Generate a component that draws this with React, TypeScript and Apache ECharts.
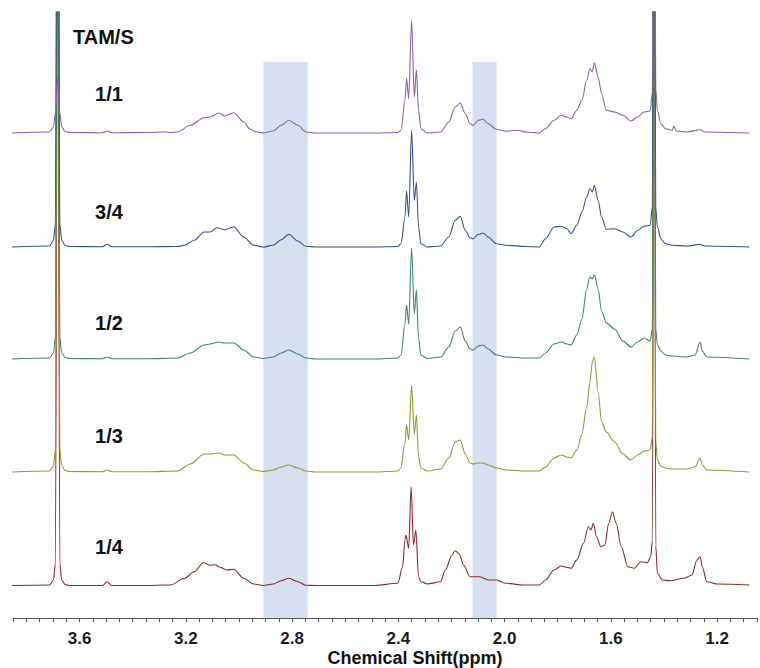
import React, { useEffect, useRef } from "react";
import * as echarts from "echarts";

// ---- data (ppm, intensity above own baseline) ----
const sampleLabels = ["1/1", "3/4", "1/2", "1/3", "1/4"];
const headerLabel = "TAM/S";
const axisTitle = "Chemical Shift(ppm)";
const tickLabels = [3.6, 3.2, 2.8, 2.4, 2.0, 1.6, 1.2];
const highlightBands = [
  [2.908, 2.741],
  [2.121, 2.03],
];

const spec_1_1 = [
  [3.854, 0], [3.713, 1], [3.698, 6], [3.691, 20], [3.682, 56], [3.674, 20], [3.667, 6], [3.654, 1.5], [3.639, 0.5],
  [3.513, 0.3], [3.496, 2], [3.479, 0.3], [3.342, 0.5], [3.279, 1], [3.257, 0.5], [3.231, 1], [3.183, 7.7],
  [3.131, 15.3], [3.108, 16], [3.075, 20], [3.053, 17], [3.019, 20.3], [2.982, 11], [2.96, 4.3], [2.934, 1],
  [2.908, 0], [2.871, 2], [2.841, 7.7], [2.812, 12.7], [2.778, 7.7], [2.748, 1], [2.711, 0], [2.489, 0],
  [2.402, 0.5], [2.39, 2.7], [2.375, 32.7], [2.369, 55], [2.361, 34], [2.35, 113], [2.34, 36], [2.332, 63],
  [2.324, 22.7], [2.315, 4.3], [2.291, 0], [2.241, 1], [2.21, 11], [2.186, 26], [2.167, 30], [2.148, 19.3],
  [2.13, 9.3], [2.118, 7.7], [2.099, 12.7], [2.081, 13.7], [2.062, 9.3], [2.031, 3.7], [1.994, 1.7],
  [1.951, 2.7], [1.92, 1], [1.87, 0], [1.846, 4.3], [1.814, 12.7], [1.787, 17.7], [1.765, 16], [1.75, 14.3],
  [1.728, 22.7], [1.709, 32.7], [1.691, 52.7], [1.679, 64.3], [1.67, 61], [1.662, 70.3], [1.648, 56],
  [1.635, 39.3], [1.617, 22.7], [1.586, 21], [1.555, 17.7], [1.524, 12], [1.499, 16], [1.475, 21],
  [1.452, 22], [1.444, 40], [1.437, 700], [1.431, 45], [1.425, 22.7], [1.412, 9.3], [1.394, 4.3],
  [1.369, 2.7], [1.363, 6.7], [1.353, 2], [1.313, 1], [1.264, 3.3], [1.246, 1], [1.079, 0],
];

const spec_3_4 = [
  [3.854, 0], [3.713, 1], [3.698, 6.7], [3.691, 23], [3.682, 700], [3.674, 23], [3.667, 6.7], [3.654, 1.5],
  [3.639, 0.5], [3.513, 0.3], [3.496, 2.7], [3.479, 0.3], [3.342, 0.3], [3.231, 0.5], [3.205, 1.7],
  [3.168, 6.7], [3.131, 15], [3.108, 15], [3.083, 19.3], [3.053, 17.3], [3.019, 20], [2.982, 10],
  [2.945, 1.7], [2.908, 0], [2.871, 1.7], [2.841, 7.3], [2.812, 12.7], [2.778, 6], [2.748, 0.7], [2.711, 0],
  [2.489, 0], [2.402, 0.5], [2.39, 3.3], [2.375, 30], [2.369, 56], [2.361, 30], [2.35, 117], [2.34, 46.7],
  [2.332, 65], [2.324, 20], [2.315, 3.3], [2.291, 0], [2.241, 1], [2.21, 10], [2.186, 26.7], [2.167, 30.7],
  [2.148, 16.7], [2.13, 9.3], [2.118, 8.3], [2.099, 12.7], [2.081, 14], [2.062, 10], [2.031, 3.3],
  [1.994, 1.7], [1.92, 0.5], [1.87, 0], [1.846, 8.3], [1.814, 20], [1.787, 20.7], [1.765, 18.3],
  [1.75, 13.3], [1.728, 21.7], [1.709, 35], [1.691, 50], [1.679, 58.3], [1.67, 55], [1.662, 61.7],
  [1.648, 46.7], [1.635, 30], [1.617, 17.7], [1.586, 18.3], [1.555, 15], [1.524, 10], [1.499, 16.7],
  [1.475, 20.7], [1.452, 21.7], [1.444, 40], [1.437, 700], [1.431, 40], [1.425, 20], [1.412, 8.3],
  [1.394, 3.3], [1.369, 1.7], [1.313, 1], [1.264, 2.7], [1.246, 1], [1.079, 0],
];

const spec_1_2 = [
  [3.854, 0], [3.713, 1], [3.698, 6], [3.691, 22], [3.682, 700], [3.674, 22], [3.667, 6], [3.654, 1.5],
  [3.639, 0.5], [3.513, 0.3], [3.496, 2], [3.479, 0.3], [3.342, 0.3], [3.231, 1], [3.183, 6], [3.131, 14],
  [3.108, 15], [3.075, 17], [3.053, 16], [3.019, 16], [2.982, 9], [2.945, 2], [2.908, 0.5], [2.871, 2],
  [2.841, 6], [2.812, 9], [2.778, 5], [2.748, 1], [2.711, 0], [2.489, 0], [2.402, 1], [2.39, 4], [2.375, 35],
  [2.369, 54], [2.361, 35], [2.35, 111], [2.34, 45], [2.332, 69], [2.324, 20], [2.315, 4], [2.291, 0.5],
  [2.241, 2], [2.21, 12], [2.186, 28], [2.167, 32], [2.148, 18], [2.13, 10], [2.118, 9], [2.099, 13],
  [2.081, 14], [2.062, 10], [2.031, 4], [1.994, 2], [1.92, 1], [1.87, 1], [1.846, 6], [1.814, 15],
  [1.787, 17], [1.765, 15], [1.75, 14], [1.728, 24], [1.709, 40], [1.691, 70], [1.679, 82], [1.67, 80],
  [1.662, 84], [1.648, 70], [1.635, 48], [1.617, 36], [1.586, 30], [1.555, 18], [1.524, 12], [1.499, 17],
  [1.475, 21], [1.452, 18], [1.444, 30], [1.437, 700], [1.431, 30], [1.425, 14], [1.412, 8], [1.394, 4],
  [1.369, 3], [1.313, 2], [1.283, 4], [1.264, 17], [1.256, 8], [1.239, 2], [1.079, 0],
];

const spec_1_3 = [
  [3.854, 0], [3.713, 1], [3.698, 6], [3.691, 22], [3.682, 700], [3.674, 22], [3.667, 6], [3.654, 1.5],
  [3.639, 0.5], [3.513, 0.3], [3.496, 2], [3.479, 0.3], [3.342, 0.3], [3.231, 1], [3.183, 8], [3.131, 18],
  [3.108, 18], [3.075, 19], [3.053, 17], [3.019, 17], [2.982, 9], [2.945, 2], [2.908, 0.5], [2.871, 2],
  [2.841, 5], [2.812, 7], [2.778, 4], [2.748, 1], [2.711, 0], [2.489, 0], [2.402, 1], [2.39, 4], [2.375, 30],
  [2.369, 47], [2.361, 32], [2.35, 87], [2.34, 38], [2.332, 57], [2.324, 15], [2.315, 4], [2.291, 1],
  [2.241, 3], [2.21, 14], [2.186, 30], [2.167, 32], [2.148, 18], [2.13, 9], [2.118, 8], [2.099, 9],
  [2.081, 9], [2.062, 7], [2.031, 4], [1.994, 2], [1.92, 1], [1.87, 1], [1.846, 5], [1.814, 14],
  [1.787, 17], [1.765, 15], [1.75, 14], [1.728, 22], [1.709, 38], [1.691, 65], [1.679, 90], [1.67, 110],
  [1.662, 115], [1.648, 80], [1.635, 50], [1.617, 40], [1.586, 30], [1.555, 18], [1.524, 12], [1.499, 17],
  [1.475, 21], [1.452, 22], [1.444, 35], [1.437, 700], [1.431, 30], [1.425, 12], [1.412, 6], [1.394, 4],
  [1.369, 3], [1.313, 3], [1.283, 5], [1.264, 14], [1.256, 7], [1.239, 2], [1.079, 0],
];

const spec_1_4 = [
  [3.854, 0.5], [3.713, 1], [3.698, 6], [3.691, 22], [3.682, 700], [3.674, 22], [3.667, 6], [3.654, 1.5],
  [3.639, 0.5], [3.513, 0.5], [3.496, 4.3], [3.479, 0.5], [3.342, 0.5], [3.279, 1], [3.257, 1], [3.205, 7.7],
  [3.168, 14.3], [3.134, 23.3], [3.108, 20.7], [3.09, 21.3], [3.071, 18.7], [3.045, 16], [3.019, 16.7],
  [2.982, 7.7], [2.945, 2], [2.908, 0.5], [2.871, 2], [2.841, 5.3], [2.812, 7.7], [2.778, 4.3], [2.748, 0.7],
  [2.711, 0.5], [2.489, 0.5], [2.402, 2.7], [2.384, 19.3], [2.375, 46], [2.371, 51], [2.361, 37.7],
  [2.352, 99.3], [2.343, 41], [2.334, 56], [2.324, 9.3], [2.315, 4.3], [2.291, 2], [2.241, 4.3], [2.223, 16],
  [2.198, 31], [2.186, 35.3], [2.17, 32], [2.155, 21], [2.13, 9.3], [2.093, 9.3], [2.062, 6], [2.031, 6],
  [1.994, 2.7], [1.932, 1], [1.87, 1], [1.846, 6], [1.814, 16], [1.787, 20], [1.765, 18.7], [1.75, 17.7],
  [1.728, 26], [1.703, 42.7], [1.685, 59.3], [1.675, 56], [1.666, 62.7], [1.654, 49.3], [1.638, 39.3],
  [1.623, 41], [1.608, 62.7], [1.594, 74.3], [1.58, 62.7], [1.561, 39.3], [1.536, 19.3], [1.512, 17.7],
  [1.487, 24.3], [1.463, 23.3], [1.45, 29.3], [1.444, 45], [1.437, 700], [1.431, 40], [1.425, 12.7],
  [1.406, 6], [1.376, 5.3], [1.326, 7.7], [1.295, 11], [1.276, 26], [1.264, 29.3], [1.256, 19.3],
  [1.239, 4.3], [1.202, 2], [1.079, 1],
];

// ---- presentation ----
const spectra = [spec_1_1, spec_3_4, spec_1_2, spec_1_3, spec_1_4];
const lineColors = ["#8d5fb0", "#38518f", "#3b8a63", "#939a2c", "#8a2b2b"];
const baselineOffsets = [485, 371, 259, 146, 32];
const labelY = [94, 212, 323, 436, 547];
const FONT = "'Liberation Sans', Arial, Helvetica, sans-serif";

export default function App() {
  const ref = useRef<HTMLDivElement>(null);

  useEffect(() => {
    if (!ref.current) return;
    const chart = echarts.init(ref.current, undefined, { renderer: "svg" });

    const order = [4, 3, 2, 1, 0]; // draw 1/4 first, 1/1 last (on top)
    const series: any[] = order.map((i, k) => {
      const s: any = {
        type: "line",
        name: sampleLabels[i],
        data: spectra[i].map(([p, v]) => [p, v + baselineOffsets[i]]),
        showSymbol: false,
        symbol: "none",
        smooth: 0.3,
        smoothMonotone: "x",
        lineStyle: { color: lineColors[i], width: 1.1 },
        itemStyle: { color: lineColors[i] },
        clip: true,
        z: 2,
      };
      if (k === 0) {
        s.markArea = {
          silent: true,
          z: 1,
          itemStyle: { color: "#d6e0f1" },
          data: highlightBands.map(([a, b]) => [
            { xAxis: a, yAxis: 0 },
            { xAxis: b, yAxis: 556 },
          ]),
        };
      }
      return s;
    });

    const graphics: any[] = [
      {
        type: "text",
        left: 73,
        top: 27,
        style: { text: headerLabel, font: `bold 20px ${FONT}`, fill: "#111" },
      },
      ...sampleLabels.map((t, i) => ({
        type: "text",
        x: 109,
        y: labelY[i],
        style: {
          text: t,
          font: `bold 20px ${FONT}`,
          fill: "#111",
          textAlign: "center",
          textVerticalAlign: "middle",
        },
      })),
      {
        type: "text",
        x: 415,
        y: 658,
        style: {
          text: axisTitle,
          font: `bold 18px ${FONT}`,
          fill: "#111",
          textAlign: "center",
          textVerticalAlign: "middle",
        },
      },
    ];

    chart.setOption({
      animation: false,
      backgroundColor: "#ffffff",
      grid: { left: 13.1, top: 12, width: 754.6, height: 606 },
      xAxis: {
        type: "value",
        inverse: true,
        min: 1.05,
        max: 3.85,
        interval: 0.05,
        axisLine: { show: true, onZero: false, lineStyle: { color: "#555", width: 1 } },
        axisTick: { show: true, length: 4, lineStyle: { color: "#555", width: 1 } },
        splitLine: { show: false },
        axisLabel: {
          margin: 12,
          color: "#1a1a1a",
          fontSize: 17,
          lineHeight: 17,
          fontWeight: "bold",
          fontFamily: FONT,
          formatter: (v: number) => {
            const hit = tickLabels.find((t) => Math.abs(t - v) < 1e-6);
            return hit !== undefined ? hit.toFixed(1) : "";
          },
        },
      },
      yAxis: {
        type: "value",
        min: 0,
        max: 606,
        show: false,
        splitLine: { show: false },
      },
      series,
      graphic: graphics,
    });

    return () => chart.dispose();
  }, []);

  return (
    <div
      ref={ref}
      style={{ position: "fixed", left: 0, top: 0, width: 760, height: 668 }}
    />
  );
}
